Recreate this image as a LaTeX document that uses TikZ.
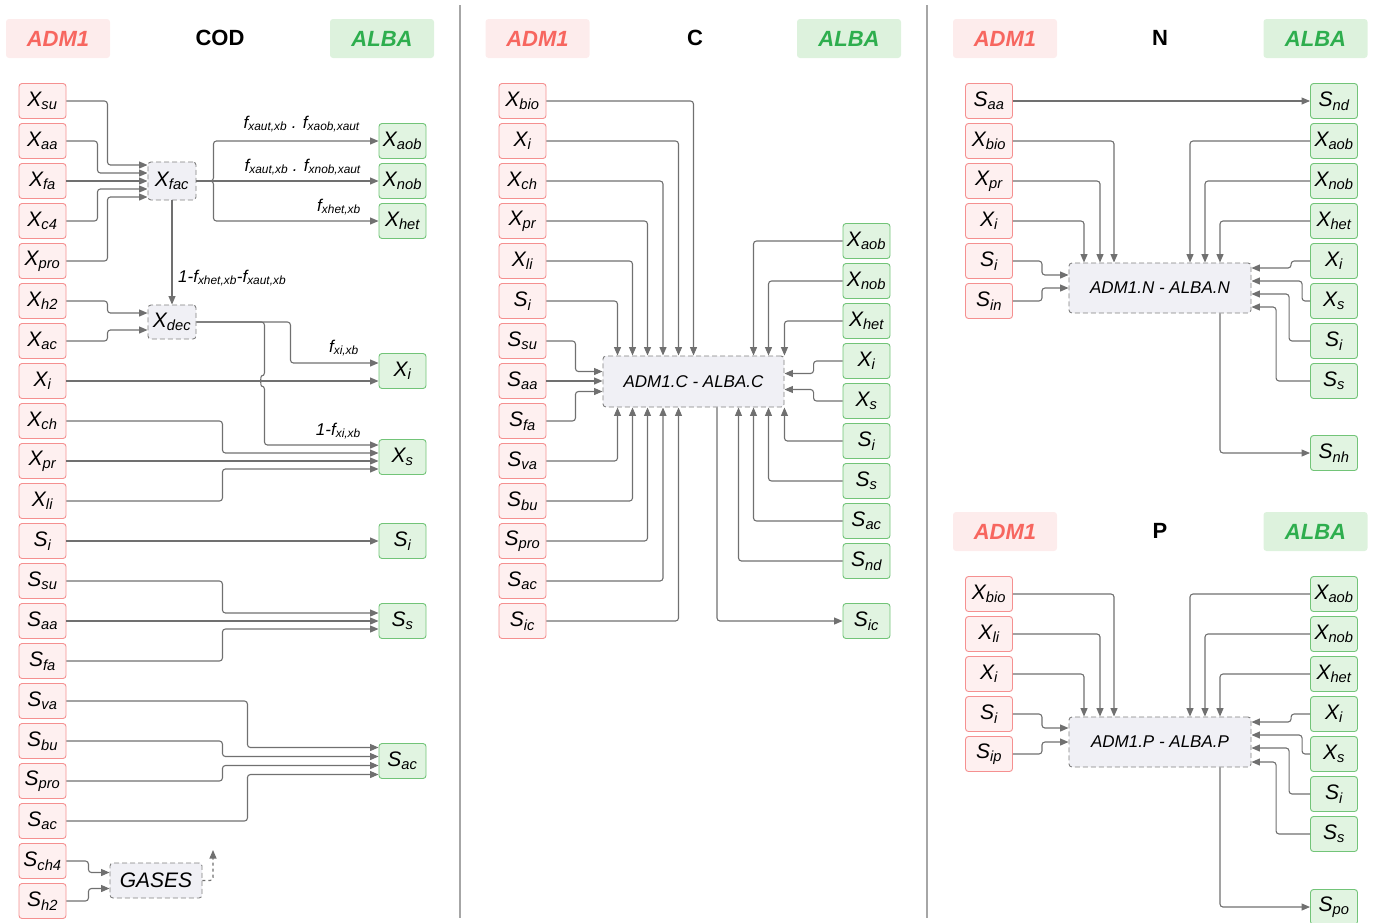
\documentclass[tikz,border=0pt]{standalone}
\usepackage{fontspec}
\setmainfont{Liberation Sans}
\usetikzlibrary{arrows.meta}
\definecolor{admfill}{HTML}{FEF0F0}
\definecolor{admline}{HTML}{F59090}
\definecolor{admtext}{HTML}{F7665F}
\definecolor{admhead}{HTML}{FDECEC}
\definecolor{albafill}{HTML}{E1F4E1}
\definecolor{albaline}{HTML}{72C478}
\definecolor{albatext}{HTML}{2EAE4E}
\definecolor{albahead}{HTML}{DDF2DD}
\definecolor{mixfill}{HTML}{F0F0F5}
\definecolor{mixline}{HTML}{808080}
\definecolor{wire}{HTML}{707070}
\tikzset{
  adm/.style={draw=admline, fill=admfill, rounded corners=3pt, line width=0.9pt, minimum width=47pt, minimum height=35pt, inner sep=0pt, font=\itshape\fontsize{21}{21}\selectfont},
  alba/.style={draw=albaline, fill=albafill, rounded corners=3pt, line width=0.9pt, minimum width=47pt, minimum height=35pt, inner sep=0pt, font=\itshape\fontsize{21}{21}\selectfont},
  mix/.style={draw=mixline, fill=mixfill, rounded corners=3pt, line width=0.9pt, dash pattern=on 5pt off 3pt, inner sep=0pt},
  hadm/.style={fill=admhead, rounded corners=3pt, minimum width=104pt, minimum height=39pt, text=admtext, font=\bfseries\itshape\fontsize{22}{22}\selectfont},
  halba/.style={fill=albahead, rounded corners=3pt, minimum width=104pt, minimum height=39pt, text=albatext, font=\bfseries\itshape\fontsize{22}{22}\selectfont},
  htitle/.style={font=\bfseries\fontsize{22}{22}\selectfont},
  flab/.style={inner sep=0pt, font=\itshape\fontsize{17}{17}\selectfont},
  conn/.style={draw=wire, line width=1.1pt, rounded corners=3pt, -{Triangle[length=8.5pt,width=7pt]}},
  sep/.style={draw=gray!70, line width=1.5pt}
}
\begin{document}
\begin{tikzpicture}[x=1pt, y=-1pt]
\useasboundingbox (0,0) rectangle (1373,922);
\draw[sep] (460,5) -- (460,918);
\draw[sep] (927,5) -- (927,918);

\node[hadm] (hcoda) at (58,38.5) {ADM1};
\node[htitle] (tcod) at (220,38) {COD};
\node[halba] (hcodb) at (382,38.5) {ALBA};

\node[adm] (xsu) at (42.5,101) {X\textsubscript{su}};
\node[adm] (xaa) at (42.5,141) {X\textsubscript{aa}};
\node[adm] (xfa) at (42.5,181) {X\textsubscript{fa}};
\node[adm] (xc4) at (42.5,221) {X\textsubscript{c4}};
\node[adm] (xpro) at (42.5,261) {X\textsubscript{pro}};
\node[adm] (xh2) at (42.5,301) {X\textsubscript{h2}};
\node[adm] (xac) at (42.5,341) {X\textsubscript{ac}};
\node[adm] (xi) at (42.5,381) {X\textsubscript{i}};
\node[adm] (xch) at (42.5,421) {X\textsubscript{ch}};
\node[adm] (xpr) at (42.5,461) {X\textsubscript{pr}};
\node[adm] (xli) at (42.5,501) {X\textsubscript{li}};
\node[adm] (si) at (42.5,541) {S\textsubscript{i}};
\node[adm] (ssu) at (42.5,581) {S\textsubscript{su}};
\node[adm] (saa) at (42.5,621) {S\textsubscript{aa}};
\node[adm] (sfa) at (42.5,661) {S\textsubscript{fa}};
\node[adm] (sva) at (42.5,701) {S\textsubscript{va}};
\node[adm] (sbu) at (42.5,741) {S\textsubscript{bu}};
\node[adm] (spro) at (42.5,781) {S\textsubscript{pro}};
\node[adm] (sac) at (42.5,821) {S\textsubscript{ac}};
\node[adm] (sch4) at (42.5,861) {S\textsubscript{ch4}};
\node[adm] (sh2) at (42.5,901) {S\textsubscript{h2}};

\node[mix, minimum width=48pt, minimum height=38pt, font=\itshape\fontsize{21}{21}\selectfont] (xfac) at (172,181) {X\textsubscript{fac}};
\node[mix, minimum width=48pt, minimum height=34pt, font=\itshape\fontsize{21}{21}\selectfont] (xdec) at (172,322) {X\textsubscript{dec}};
\node[mix, minimum width=92pt, minimum height=35pt, font=\itshape\fontsize{21}{21}\selectfont] (gases) at (156,880.5) {GASES};

\node[alba] (rxaob) at (402.5,141) {X\textsubscript{aob}};
\node[alba] (rxnob) at (402.5,181) {X\textsubscript{nob}};
\node[alba] (rxhet) at (402.5,221) {X\textsubscript{het}};
\node[alba] (rxi) at (402.5,371) {X\textsubscript{i}};
\node[alba] (rxs) at (402.5,457) {X\textsubscript{s}};
\node[alba] (rsi) at (402.5,541) {S\textsubscript{i}};
\node[alba] (rss) at (402.5,621) {S\textsubscript{s}};
\node[alba] (rsac) at (402.5,761) {S\textsubscript{ac}};

\node[flab, anchor=base east] (fxaob) at (360,128) {f\textsubscript{xaut,xb} . f\textsubscript{xaob,xaut}};
\node[flab, anchor=base east] (fxnob) at (361,171) {f\textsubscript{xaut,xb} . f\textsubscript{xnob,xaut}};
\node[flab, anchor=base east] (fxhet) at (361,211) {f\textsubscript{xhet,xb}};
\node[flab, anchor=base west] (fxdec) at (178,282) {1-f\textsubscript{xhet,xb}-f\textsubscript{xaut,xb}};
\node[flab, anchor=base east] (fxi) at (359,352) {f\textsubscript{xi,xb}};
\node[flab, anchor=base east] (fxs) at (361,435) {1-f\textsubscript{xi,xb}};

\draw[conn] (xsu.east) -- ++(41,0) |- ([yshift=16pt]xfac.west);
\draw[conn] (xaa.east) -- ++(31,0) |- ([yshift=8pt]xfac.west);
\draw[conn] (xfa.east) -- (xfac.west);
\draw[conn] (xc4.east) -- ++(31,0) |- ([yshift=-8pt]xfac.west);
\draw[conn] (xpro.east) -- ++(41,0) |- ([yshift=-16pt]xfac.west);
\draw[conn] (xfac.east) -- ++(17,0) |- (rxaob.west);
\draw[conn] (xfac.east) -- (rxnob.west);
\draw[conn] (xfac.east) -- ++(17,0) |- (rxhet.west);
\draw[conn] (xfac.south) -- (xdec.north);
\draw[conn] (xh2.east) -- ++(41,0) |- ([yshift=9pt]xdec.west);
\draw[conn] (xac.east) -- ++(41,0) |- ([yshift=-8pt]xdec.west);
\draw[conn] (xdec.east) -- ++(94,0) |- ([yshift=8pt]rxi.west);
\draw[conn] (xdec.east) -- ++(68,0) -- ++(0,54) .. controls +(-4,0) and +(-4,0) .. ++(0,10) |- ([yshift=12pt]rxs.west);
\draw[conn] (xi.east) -- (xi.east -| rxi.west);
\draw[conn] (xch.east) -- ++(156,0) |- ([yshift=4pt]rxs.west);
\draw[conn] (xpr.east) -- (xpr.east -| rxs.west);
\draw[conn] (xli.east) -- ++(156,0) |- ([yshift=-12pt]rxs.west);
\draw[conn] (si.east) -- (rsi.west);
\draw[conn] (ssu.east) -- ++(156,0) |- ([yshift=8pt]rss.west);
\draw[conn] (saa.east) -- (rss.west);
\draw[conn] (sfa.east) -- ++(156,0) |- ([yshift=-8pt]rss.west);
\draw[conn] (sva.east) -- ++(181,0) |- ([yshift=13.5pt]rsac.west);
\draw[conn] (sbu.east) -- ++(156,0) |- ([yshift=4.5pt]rsac.west);
\draw[conn] (spro.east) -- ++(156,0) |- ([yshift=-4.5pt]rsac.west);
\draw[conn] (sac.east) -- ++(181,0) |- ([yshift=-13.5pt]rsac.west);
\draw[conn] (sch4.east) -- ++(22,0) |- ([yshift=8pt]gases.west);
\draw[conn] (sh2.east) -- ++(22,0) |- ([yshift=-8pt]gases.west);
\coordinate (gasout) at (213,850);
\draw[conn, dashed] (gases.east) -| (gasout);

\node[hadm] (hca) at (537.5,38.5) {ADM1};
\node[htitle] (tc) at (695,38) {C};
\node[halba] (hcb) at (849,38.5) {ALBA};

\node[adm] (cxbio) at (522.5,101) {X\textsubscript{bio}};
\node[adm] (cxi) at (522.5,141) {X\textsubscript{i}};
\node[adm] (cxch) at (522.5,181) {X\textsubscript{ch}};
\node[adm] (cxpr) at (522.5,221) {X\textsubscript{pr}};
\node[adm] (cxli) at (522.5,261) {X\textsubscript{li}};
\node[adm] (csi) at (522.5,301) {S\textsubscript{i}};
\node[adm] (cssu) at (522.5,341) {S\textsubscript{su}};
\node[adm] (csaa) at (522.5,381) {S\textsubscript{aa}};
\node[adm] (csfa) at (522.5,421) {S\textsubscript{fa}};
\node[adm] (csva) at (522.5,461) {S\textsubscript{va}};
\node[adm] (csbu) at (522.5,501) {S\textsubscript{bu}};
\node[adm] (cspro) at (522.5,541) {S\textsubscript{pro}};
\node[adm] (csac) at (522.5,581) {S\textsubscript{ac}};
\node[adm] (csic) at (522.5,621) {S\textsubscript{ic}};

\node[mix, minimum width=181pt, minimum height=51pt, font=\itshape\fontsize{17}{17}\selectfont] (cbox) at (693.5,381.5) {ADM1.C - ALBA.C};

\node[alba] (crxaob) at (866.5,241) {X\textsubscript{aob}};
\node[alba] (crxnob) at (866.5,281) {X\textsubscript{nob}};
\node[alba] (crxhet) at (866.5,321) {X\textsubscript{het}};
\node[alba] (crxi) at (866.5,361) {X\textsubscript{i}};
\node[alba] (crxs) at (866.5,401) {X\textsubscript{s}};
\node[alba] (crsi) at (866.5,441) {S\textsubscript{i}};
\node[alba] (crss) at (866.5,481) {S\textsubscript{s}};
\node[alba] (crsac) at (866.5,521) {S\textsubscript{ac}};
\node[alba] (crsnd) at (866.5,561) {S\textsubscript{nd}};
\node[alba] (crsic) at (866.5,621) {S\textsubscript{ic}};

\draw[conn] (cxbio.east) -| (cbox.north);
\draw[conn] (cxi.east) -| ([xshift=-15pt]cbox.north);
\draw[conn] (cxch.east) -| ([xshift=-30.5pt]cbox.north);
\draw[conn] (cxpr.east) -| ([xshift=-46pt]cbox.north);
\draw[conn] (cxli.east) -| ([xshift=-61pt]cbox.north);
\draw[conn] (csi.east) -| ([xshift=-76pt]cbox.north);
\draw[conn] (cssu.east) -- ++(29,0) |- ([yshift=10pt]cbox.west);
\draw[conn] (csaa.east) -- (csaa.east -| cbox.west);
\draw[conn] (csfa.east) -- ++(29,0) |- ([yshift=-10pt]cbox.west);
\draw[conn] (csva.east) -| ([xshift=-76pt]cbox.south);
\draw[conn] (csbu.east) -| ([xshift=-61pt]cbox.south);
\draw[conn] (cspro.east) -| ([xshift=-46pt]cbox.south);
\draw[conn] (csac.east) -| ([xshift=-30.5pt]cbox.south);
\draw[conn] (csic.east) -| ([xshift=-15pt]cbox.south);
\draw[conn] (crxaob.west) -| ([xshift=60pt]cbox.north);
\draw[conn] (crxnob.west) -| ([xshift=75pt]cbox.north);
\draw[conn] (crxhet.west) -| (cbox.north east);
\draw[conn] (crxi.west) -- ++(-29,0) |- ([yshift=8pt]cbox.east);
\draw[conn] (crxs.west) -- ++(-29,0) |- ([yshift=-8pt]cbox.east);
\draw[conn] (crsi.west) -| (cbox.south east);
\draw[conn] (crss.west) -| ([xshift=75pt]cbox.south);
\draw[conn] (crsac.west) -| ([xshift=60pt]cbox.south);
\draw[conn] (crsnd.west) -| ([xshift=45pt]cbox.south);
\draw[conn] ([xshift=23.5pt]cbox.south) |- (crsic.west);

\node[hadm] (hna) at (1005,38.5) {ADM1};
\node[htitle] (tn) at (1160,38) {N};
\node[halba] (hnb) at (1315.5,38.5) {ALBA};

\node[adm] (nsaa) at (989,101) {S\textsubscript{aa}};
\node[adm] (nxbio) at (989,141) {X\textsubscript{bio}};
\node[adm] (nxpr) at (989,181) {X\textsubscript{pr}};
\node[adm] (nxi) at (989,221) {X\textsubscript{i}};
\node[adm] (nsi) at (989,261) {S\textsubscript{i}};
\node[adm] (nsin) at (989,301) {S\textsubscript{in}};

\node[mix, minimum width=182pt, minimum height=50pt, font=\itshape\fontsize{17}{17}\selectfont] (nbox) at (1160,288) {ADM1.N - ALBA.N};

\node[alba] (nrsnd) at (1334,101) {S\textsubscript{nd}};
\node[alba] (nrxaob) at (1334,141) {X\textsubscript{aob}};
\node[alba] (nrxnob) at (1334,181) {X\textsubscript{nob}};
\node[alba] (nrxhet) at (1334,221) {X\textsubscript{het}};
\node[alba] (nrxi) at (1334,261) {X\textsubscript{i}};
\node[alba] (nrxs) at (1334,301) {X\textsubscript{s}};
\node[alba] (nrsi) at (1334,341) {S\textsubscript{i}};
\node[alba] (nrss) at (1334,381) {S\textsubscript{s}};
\node[alba] (nrsnh) at (1334,453) {S\textsubscript{nh}};

\draw[conn] (nsaa.east) -- (nrsnd.west);
\draw[conn] (nxbio.east) -| ([xshift=-46pt]nbox.north);
\draw[conn] (nxpr.east) -| ([xshift=-60pt]nbox.north);
\draw[conn] (nxi.east) -| ([xshift=-76pt]nbox.north);
\draw[conn] (nsi.east) -- ++(29,0) |- ([yshift=13pt]nbox.west);
\draw[conn] (nsin.east) -- ++(29,0) |- (nbox.west);
\draw[conn] (nrxaob.west) -| ([xshift=30pt]nbox.north);
\draw[conn] (nrxnob.west) -| ([xshift=45pt]nbox.north);
\draw[conn] (nrxhet.west) -| ([xshift=60pt]nbox.north);
\draw[conn] (nrxi.west) -- ++(-19,0) |- ([yshift=20pt]nbox.east);
\draw[conn] (nrxs.west) -- ++(-8,0) |- ([yshift=7pt]nbox.east);
\draw[conn] (nrsi.west) -- ++(-21,0) |- ([yshift=-6pt]nbox.east);
\draw[conn] (nrss.west) -- ++(-34,0) |- ([yshift=-19pt]nbox.east);
\draw[conn] ([xshift=60pt]nbox.south) |- (nrsnh.west);

\node[hadm] (hpa) at (1005,531.5) {ADM1};
\node[htitle] (tp) at (1160,531) {P};
\node[halba] (hpb) at (1315.5,531.5) {ALBA};

\node[adm] (pxbio) at (989,594) {X\textsubscript{bio}};
\node[adm] (pxli) at (989,634) {X\textsubscript{li}};
\node[adm] (pxi) at (989,674) {X\textsubscript{i}};
\node[adm] (psi) at (989,714) {S\textsubscript{i}};
\node[adm] (psip) at (989,754) {S\textsubscript{ip}};

\node[mix, minimum width=182pt, minimum height=50pt, font=\itshape\fontsize{17}{17}\selectfont] (pbox) at (1160,742) {ADM1.P - ALBA.P};

\node[alba] (prxaob) at (1334,594) {X\textsubscript{aob}};
\node[alba] (prxnob) at (1334,634) {X\textsubscript{nob}};
\node[alba] (prxhet) at (1334,674) {X\textsubscript{het}};
\node[alba] (prxi) at (1334,714) {X\textsubscript{i}};
\node[alba] (prxs) at (1334,754) {X\textsubscript{s}};
\node[alba] (prsi) at (1334,794) {S\textsubscript{i}};
\node[alba] (prss) at (1334,834) {S\textsubscript{s}};
\node[alba] (prspo) at (1334,907) {S\textsubscript{po}};

\draw[conn] (pxbio.east) -| ([xshift=-46pt]pbox.north);
\draw[conn] (pxli.east) -| ([xshift=-60pt]pbox.north);
\draw[conn] (pxi.east) -| ([xshift=-76pt]pbox.north);
\draw[conn] (psi.east) -- ++(29,0) |- ([yshift=14pt]pbox.west);
\draw[conn] (psip.east) -- ++(29,0) |- (pbox.west);
\draw[conn] (prxaob.west) -| ([xshift=30pt]pbox.north);
\draw[conn] (prxnob.west) -| ([xshift=45pt]pbox.north);
\draw[conn] (prxhet.west) -| ([xshift=60pt]pbox.north);
\draw[conn] (prxi.west) -- ++(-19,0) |- ([yshift=20pt]pbox.east);
\draw[conn] (prxs.west) -- ++(-8,0) |- ([yshift=7pt]pbox.east);
\draw[conn] (prsi.west) -- ++(-21,0) |- ([yshift=-6pt]pbox.east);
\draw[conn] (prss.west) -- ++(-34,0) |- ([yshift=-20pt]pbox.east);
\draw[conn] ([xshift=60pt]pbox.south) |- (prspo.west);
\end{tikzpicture}
\end{document}
